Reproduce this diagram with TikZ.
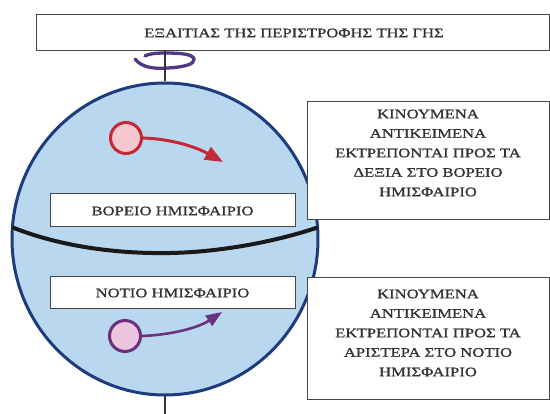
\documentclass[tikz,border=0pt]{standalone}
\usepackage{fontspec}
\setmainfont[FakeStretch=1.28,FakeBold=1]{Liberation Serif}
\usetikzlibrary{shapes.geometric,arrows.meta}
\definecolor{globefill}{RGB}{186,215,240}
\definecolor{globeline}{RGB}{30,60,125}
\definecolor{boxline}{RGB}{70,70,70}
\definecolor{txtcol}{RGB}{50,50,50}
\definecolor{redfill}{RGB}{245,200,207}
\definecolor{redline}{RGB}{195,40,55}
\definecolor{purfill}{RGB}{238,195,222}
\definecolor{purline}{RGB}{105,50,125}
\definecolor{rotcol}{RGB}{80,55,135}
\begin{document}
\begin{tikzpicture}[x=1pt,y=-1pt,
  tbox/.style={draw=boxline,line width=1pt,fill=white,inner sep=0pt},
  txt/.style={text=txtcol,font=\fontsize{13}{19.5}\selectfont,align=center,inner sep=0pt},
  ball/.style={circle,line width=3pt,minimum size=31pt,inner sep=0pt},
  axisline/.style={draw=black!80,line width=1.5pt}]
\useasboundingbox (0,0) rectangle (550,414);
\fill[white] (0,0) rectangle (550,414);
% globe
\node[ellipse,draw=globeline,line width=3pt,fill=globefill,minimum width=306pt,minimum height=312pt,inner sep=0pt] (globe) at (165,239) {};
\coordinate (axend) at (165,414);
\draw[axisline] (globe.south) -- (axend);
% rotation curl
\draw[rotcol,line width=3.3pt,line cap=round] (135,59) .. controls (142,68) and (155,69) .. (168,68) .. controls (185,67) and (195,64) .. (194,59) .. controls (193,54) and (180,53) .. (165,53) .. controls (155,53) and (148,54) .. (145,56);
% top box
\node[tbox,minimum width=513pt,minimum height=36pt] (topbox) at (292.5,33) {};
\node[txt] (toptxt) at (294,33) {ΕΞΑΙΤΙΑΣ ΤΗΣ ΠΕΡΙΣΤΡΟΦΗΣ ΤΗΣ ΓΗΣ};
\draw[axisline] (globe.north |- topbox.south) -- (globe.north);
% equator
\draw[black!90,line width=4pt,line cap=round] (14,228) .. controls (60,246) and (115,254) .. (170,253) .. controls (225,252) and (280,240) .. (316,228);
% hemisphere boxes
\node[tbox,minimum width=245pt,minimum height=33pt] (nbox) at (172.5,210.5) {};
\node[txt] (ntxt) at (172.5,211) {ΒΟΡΕΙΟ ΗΜΙΣΦΑΙΡΙΟ};
\node[tbox,minimum width=245pt,minimum height=32pt] (sbox) at (172.5,293) {};
\node[txt] (stxt) at (172.5,293) {ΝΟΤΙΟ ΗΜΙΣΦΑΙΡΙΟ};
% right boxes
\node[tbox,minimum width=242pt,minimum height=118pt] (rbox1) at (428,161) {};
\node[txt] (rtxt1) at (428,153) {ΚΙΝΟΥΜΕΝΑ\\ΑΝΤΙΚΕΙΜΕΝΑ\\ΕΚΤΡΕΠΟΝΤΑΙ ΠΡΟΣ ΤΑ\\ΔΕΞΙΑ ΣΤΟ ΒΟΡΕΙΟ\\ΗΜΙΣΦΑΙΡΙΟ};
\node[tbox,minimum width=242pt,minimum height=122pt] (rbox2) at (428,339) {};
\node[txt] (rtxt2) at (428,333) {ΚΙΝΟΥΜΕΝΑ\\ΑΝΤΙΚΕΙΜΕΝΑ\\ΕΚΤΡΕΠΟΝΤΑΙ ΠΡΟΣ ΤΑ\\ΑΡΙΣΤΕΡΑ ΣΤΟ ΝΟΤΙΟ\\ΗΜΙΣΦΑΙΡΙΟ};
% red ball and arrow
\node[ball,draw=redline,fill=redfill] (rball) at (126,138) {};
\coordinate (rtip) at (223,162);
\draw[redline,line width=3pt,-{Triangle[length=18pt,width=14pt]}] (rball.east) .. controls (172,139) and (196,147) .. (rtip);
% purple ball and arrow
\node[ball,draw=purline,fill=purfill] (pball) at (125,336) {};
\coordinate (ptip) at (222,312);
\draw[purline,line width=2.6pt,-{Triangle[length=16pt,width=12pt]}] (pball.east) .. controls (170,335) and (198,328) .. (ptip);
\end{tikzpicture}
\end{document}
